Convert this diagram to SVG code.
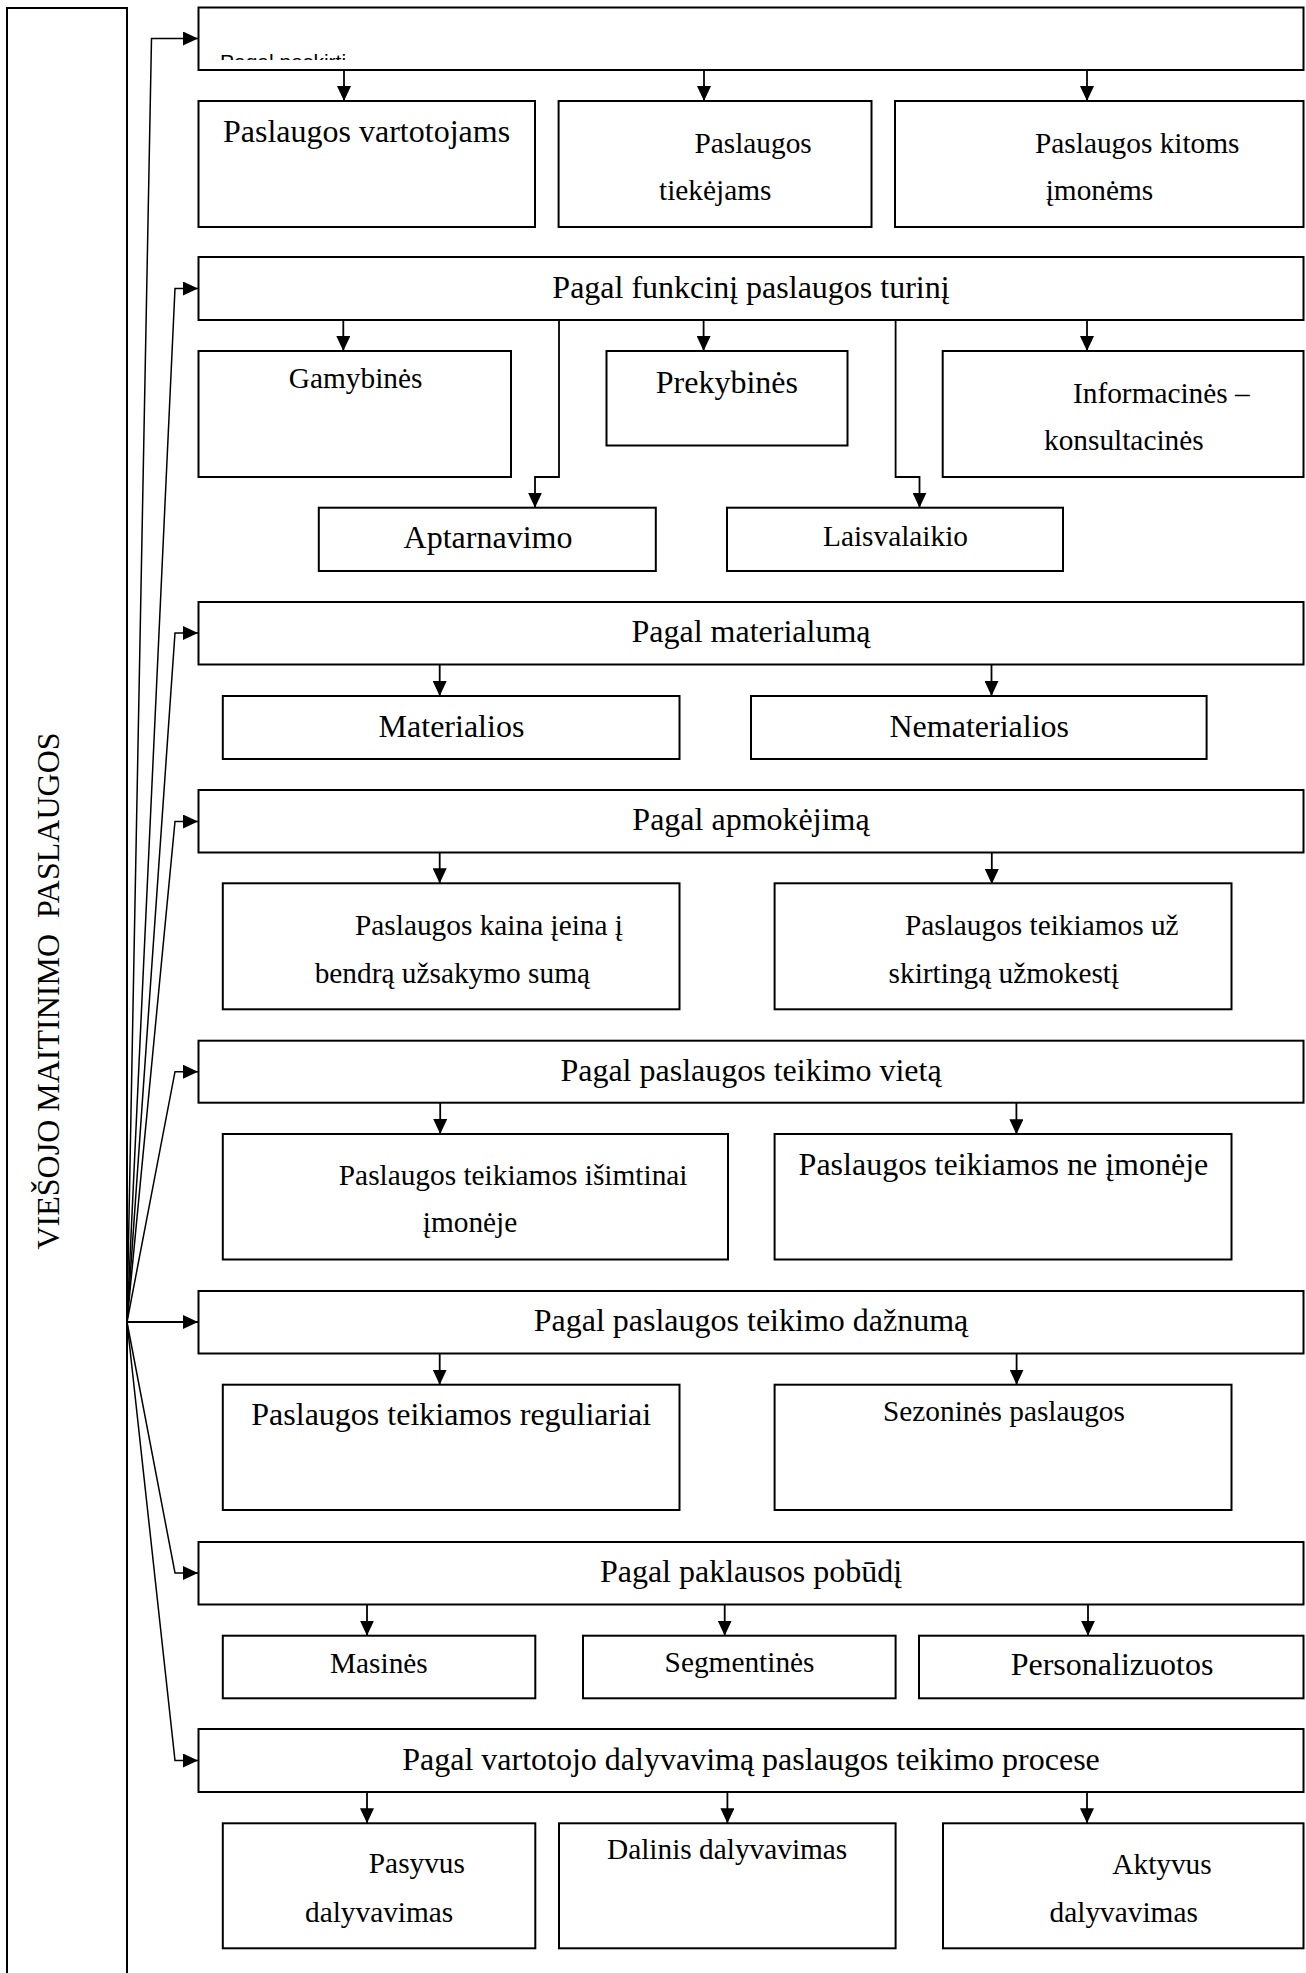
<svg xmlns="http://www.w3.org/2000/svg" width="1306" height="1973" viewBox="0 0 1306 1973">
  <style>
    .box { fill: #fff; stroke: #000; stroke-width: 2; }
    .wire { fill: none; stroke: #000; stroke-width: 1.8; }
    .fan { fill: none; stroke: #000; stroke-width: 1.5; }
    .big { font-family: "Liberation Serif", "Times New Roman", serif; font-size: 32px; fill: #000; }
    .small { font-family: "Liberation Serif", "Times New Roman", serif; font-size: 29.33px; fill: #000; }
    .hd { text-anchor: middle; }
    .sans { font-family: "Liberation Sans", Arial, sans-serif; font-size: 21px; fill: #000; }
  </style>
  <defs>
    <marker id="arrow" viewBox="0 0 15 14" refX="15" refY="7" markerWidth="15" markerHeight="14" markerUnits="userSpaceOnUse" orient="auto">
      <path d="M0,0 L15,7 L0,14 Z" fill="#000"/>
    </marker>
    <clipPath id="clip-h1">
      <rect x="199" y="9" width="1100" height="51"/>
    </clipPath>
  </defs>

  <rect width="1306" height="1973" fill="#fff"/>

  <!-- root: vertical label box -->
  <g id="root">
    <rect class="box" x="7" y="8" width="120" height="2000"/>
    <text class="big" transform="translate(59,991) rotate(-90)" text-anchor="middle" xml:space="preserve">VIEŠOJO MAITINIMO  PASLAUGOS</text>
  </g>

  <!-- connectors -->
  <g id="connectors">
    <!-- fan from the root box to each category -->
    <path class="fan" d="M127,1322 L151.5,38.5 L198,38.5" marker-end="url(#arrow)"/>
    <path class="fan" d="M127,1322 L175,288.5 L198,288.5" marker-end="url(#arrow)"/>
    <path class="fan" d="M127,1322 L175,633 L198,633" marker-end="url(#arrow)"/>
    <path class="fan" d="M127,1322 L175,821.5 L198,821.5" marker-end="url(#arrow)"/>
    <path class="fan" d="M127,1322 L175,1071.7 L198,1071.7" marker-end="url(#arrow)"/>
    <path class="wire" d="M127,1322 L198,1322" marker-end="url(#arrow)"/>
    <path class="fan" d="M127,1322 L175,1573 L198,1573" marker-end="url(#arrow)"/>
    <path class="fan" d="M127,1322 L175,1760.5 L198,1760.5" marker-end="url(#arrow)"/>

    <!-- category 1 -->
    <path class="wire" d="M344,70 L344,101" marker-end="url(#arrow)"/>
    <path class="wire" d="M704,70 L704,101" marker-end="url(#arrow)"/>
    <path class="wire" d="M1087,70 L1087,101" marker-end="url(#arrow)"/>

    <!-- category 2 -->
    <path class="wire" d="M343.3,320 L343.3,351" marker-end="url(#arrow)"/>
    <path class="wire" d="M703.6,320 L703.6,351" marker-end="url(#arrow)"/>
    <path class="wire" d="M1087,320 L1087,351" marker-end="url(#arrow)"/>
    <path class="wire" d="M559,320 L559,477 L535,477 L535,507.7" marker-end="url(#arrow)"/>
    <path class="wire" d="M895.6,320 L895.6,477 L919.5,477 L919.5,507.7" marker-end="url(#arrow)"/>

    <!-- category 3 -->
    <path class="wire" d="M439.7,664.5 L439.7,696" marker-end="url(#arrow)"/>
    <path class="wire" d="M991.5,664.5 L991.5,696" marker-end="url(#arrow)"/>

    <!-- category 4 -->
    <path class="wire" d="M439.7,852.5 L439.7,883.3" marker-end="url(#arrow)"/>
    <path class="wire" d="M991.8,852.5 L991.8,884" marker-end="url(#arrow)"/>

    <!-- category 5 -->
    <path class="wire" d="M440.2,1103 L440.2,1134" marker-end="url(#arrow)"/>
    <path class="wire" d="M1016.4,1103 L1016.4,1134.3" marker-end="url(#arrow)"/>

    <!-- category 6 -->
    <path class="wire" d="M439.7,1353.5 L439.7,1384.7" marker-end="url(#arrow)"/>
    <path class="wire" d="M1016.6,1353.5 L1016.6,1384.7" marker-end="url(#arrow)"/>

    <!-- category 7 -->
    <path class="wire" d="M367,1604.5 L367,1635.7" marker-end="url(#arrow)"/>
    <path class="wire" d="M724.7,1604.5 L724.7,1635.7" marker-end="url(#arrow)"/>
    <path class="wire" d="M1088,1604.5 L1088,1635.7" marker-end="url(#arrow)"/>

    <!-- category 8 -->
    <path class="wire" d="M367,1792 L367,1823.3" marker-end="url(#arrow)"/>
    <path class="wire" d="M727.4,1792 L727.4,1823.3" marker-end="url(#arrow)"/>
    <path class="wire" d="M1087,1792 L1087,1823.3" marker-end="url(#arrow)"/>
  </g>

  <!-- category 1: by purpose -->
  <g id="cat-paskirtis">
    <rect class="box" x="198.5" y="7.5" width="1105" height="62.5"/>
    <text class="sans" x="220" y="69" clip-path="url(#clip-h1)">Pagal paskirti</text>
  </g>
  <g id="n-vartotojams">
    <rect class="box" x="198.5" y="101" width="336.5" height="126"/>
    <text class="big" x="223" y="141.7">Paslaugos vartotojams</text>
  </g>
  <g id="n-tiekejams">
    <rect class="box" x="558.6" y="101" width="312.9" height="126"/>
    <text class="small" x="694.4" y="152.7">Paslaugos</text>
    <text class="small" x="659" y="200">tiekėjams</text>
  </g>
  <g id="n-kitoms">
    <rect class="box" x="895" y="101" width="408.5" height="126"/>
    <text class="small" x="1035" y="152.7">Paslaugos kitoms</text>
    <text class="small" x="1045.7" y="200">įmonėms</text>
  </g>

  <!-- category 2: by functional content -->
  <g id="cat-funkcinis">
    <rect class="box" x="198.5" y="257" width="1105" height="63"/>
    <text class="big hd" x="751" y="298">Pagal funkcinį paslaugos turinį</text>
  </g>
  <g id="n-gamybines">
    <rect class="box" x="198.5" y="351" width="312.5" height="126"/>
    <text class="small" x="288.8" y="388.3">Gamybinės</text>
  </g>
  <g id="n-prekybines">
    <rect class="box" x="606.5" y="351" width="241" height="94.5"/>
    <text class="big" x="655.8" y="392.7">Prekybinės</text>
  </g>
  <g id="n-informacines">
    <rect class="box" x="942.7" y="351" width="360.8" height="126"/>
    <text class="small" x="1073" y="403.3">Informacinės –</text>
    <text class="small" x="1044" y="450">konsultacinės</text>
  </g>
  <g id="n-aptarnavimo">
    <rect class="box" x="318.8" y="507.7" width="337" height="63.3"/>
    <text class="big" x="403.6" y="548.3">Aptarnavimo</text>
  </g>
  <g id="n-laisvalaikio">
    <rect class="box" x="727" y="507.7" width="336" height="63.3"/>
    <text class="small" x="823" y="546">Laisvalaikio</text>
  </g>

  <!-- category 3: by materiality -->
  <g id="cat-materialumas">
    <rect class="box" x="198.5" y="602" width="1105" height="62.5"/>
    <text class="big hd" x="751" y="642">Pagal materialumą</text>
  </g>
  <g id="n-materialios">
    <rect class="box" x="222.8" y="696" width="456.7" height="63"/>
    <text class="big" x="378.6" y="736.7">Materialios</text>
  </g>
  <g id="n-nematerialios">
    <rect class="box" x="751" y="696" width="455.6" height="63"/>
    <text class="big" x="889.5" y="736.7">Nematerialios</text>
  </g>

  <!-- category 4: by payment -->
  <g id="cat-apmokejimas">
    <rect class="box" x="198.5" y="790" width="1105" height="62.5"/>
    <text class="big hd" x="751" y="830">Pagal apmokėjimą</text>
  </g>
  <g id="n-kaina">
    <rect class="box" x="222.8" y="883.3" width="456.7" height="126"/>
    <text class="small" x="355" y="935">Paslaugos kaina įeina į</text>
    <text class="small" x="314.7" y="983.3">bendrą užsakymo sumą</text>
  </g>
  <g id="n-uzmokestis">
    <rect class="box" x="774.6" y="883.3" width="456.9" height="126"/>
    <text class="small" x="904.9" y="935">Paslaugos teikiamos už</text>
    <text class="small" x="888.6" y="982.7">skirtingą užmokestį</text>
  </g>

  <!-- category 5: by place of service -->
  <g id="cat-vieta">
    <rect class="box" x="198.5" y="1040.7" width="1105" height="62"/>
    <text class="big hd" x="751" y="1080.5">Pagal paslaugos teikimo vietą</text>
  </g>
  <g id="n-imoneje">
    <rect class="box" x="222.8" y="1134" width="505.2" height="125.5"/>
    <text class="small" x="338.8" y="1185">Paslaugos teikiamos išimtinai</text>
    <text class="small" x="422.8" y="1231.7">įmonėje</text>
  </g>
  <g id="n-ne-imoneje">
    <rect class="box" x="774.6" y="1134" width="456.9" height="125.5"/>
    <text class="big" x="798.6" y="1175">Paslaugos teikiamos ne įmonėje</text>
  </g>

  <!-- category 6: by frequency -->
  <g id="cat-daznumas">
    <rect class="box" x="198.5" y="1291" width="1105" height="62.5"/>
    <text class="big hd" x="751" y="1331">Pagal paslaugos teikimo dažnumą</text>
  </g>
  <g id="n-reguliariai">
    <rect class="box" x="222.8" y="1384.7" width="456.7" height="125.3"/>
    <text class="big" x="251.3" y="1425">Paslaugos teikiamos reguliariai</text>
  </g>
  <g id="n-sezonines">
    <rect class="box" x="774.6" y="1384.7" width="456.9" height="125.3"/>
    <text class="small" x="883" y="1421">Sezoninės paslaugos</text>
  </g>

  <!-- category 7: by demand -->
  <g id="cat-paklausa">
    <rect class="box" x="198.5" y="1542" width="1105" height="62.5"/>
    <text class="big hd" x="751" y="1582">Pagal paklausos pobūdį</text>
  </g>
  <g id="n-masines">
    <rect class="box" x="222.8" y="1635.7" width="312.5" height="62.6"/>
    <text class="small" x="330" y="1672.7">Masinės</text>
  </g>
  <g id="n-segmentines">
    <rect class="box" x="583" y="1635.7" width="312.6" height="62.6"/>
    <text class="small" x="664.6" y="1671.7">Segmentinės</text>
  </g>
  <g id="n-personalizuotos">
    <rect class="box" x="919" y="1635.7" width="384.5" height="62.6"/>
    <text class="big" x="1010.7" y="1675">Personalizuotos</text>
  </g>

  <!-- category 8: by consumer participation -->
  <g id="cat-dalyvavimas">
    <rect class="box" x="198.5" y="1729" width="1105" height="63"/>
    <text class="big hd" x="751" y="1769.5">Pagal vartotojo dalyvavimą paslaugos teikimo procese</text>
  </g>
  <g id="n-pasyvus">
    <rect class="box" x="222.8" y="1823.3" width="312.5" height="125"/>
    <text class="small" x="368.8" y="1873.3">Pasyvus</text>
    <text class="small" x="305" y="1921.7">dalyvavimas</text>
  </g>
  <g id="n-dalinis">
    <rect class="box" x="559" y="1823.3" width="336.6" height="125"/>
    <text class="small" x="607" y="1859.3">Dalinis dalyvavimas</text>
  </g>
  <g id="n-aktyvus">
    <rect class="box" x="943" y="1823.3" width="360.5" height="125"/>
    <text class="small" x="1112.3" y="1874">Aktyvus</text>
    <text class="small" x="1049.6" y="1921.7">dalyvavimas</text>
  </g>
</svg>
